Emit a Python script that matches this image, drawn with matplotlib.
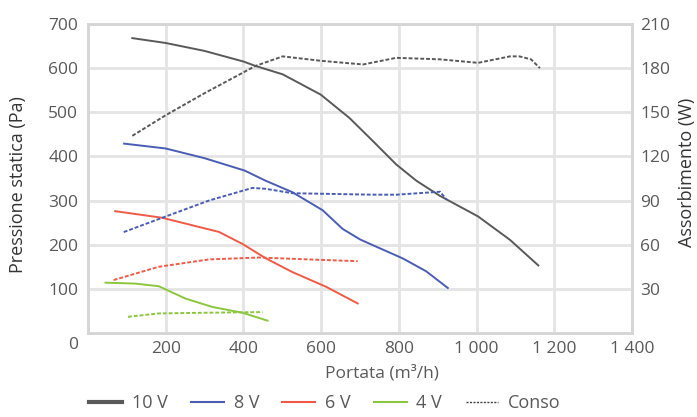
import matplotlib
matplotlib.use("Agg")
import matplotlib.pyplot as plt
from matplotlib.lines import Line2D
import matplotlib.transforms as mtransforms

plt.rcParams['font.family'] = ['Open Sans', 'DejaVu Sans']

# Pressure curves (Pa) vs flow (m3/h)
q10 = [114, 200, 300, 400, 431, 501, 599, 673, 733, 793, 845, 905, 1004, 1086, 1159]
p10 = [668, 657, 639, 615, 605, 586, 540, 487, 435, 382, 345, 311, 264, 211, 153]
q8 = [93, 200, 300, 403, 457, 526, 604, 655, 700, 733, 810, 870, 926]
p8 = [429, 418, 396, 368, 345, 319, 278, 236, 212, 199, 169, 140, 102]
q6 = [70, 191, 337, 397, 458, 526, 612, 694]
p6 = [276, 261, 229, 202, 169, 138, 105, 67]
q4 = [45, 120, 182, 251, 320, 397, 462]
p4 = [114, 112, 106, 78, 59, 46, 28]

# Power consumption (W) vs flow
cq10 = [114, 200, 300, 431, 501, 599, 708, 793, 905, 1004, 1086, 1110, 1140, 1163]
cw10 = [134, 148, 163, 181.5, 188, 185, 182.5, 187, 186, 183.6, 188, 188, 186, 180]
cq8 = [92, 191, 311, 423, 457, 526, 733, 794, 906, 923]
cw8 = [68.6, 78.3, 90, 98.6, 98, 95, 94, 94, 96, 90.6]
cq6 = [66, 182, 311, 440, 569, 694]
cw6 = [36, 45, 50, 51.3, 50, 48.8]
cq4 = [103, 182, 311, 449]
cw4 = [11, 13.3, 13.8, 14.2]

col10, col8, col6, col4 = '#595959', '#4a5db5', '#ef5a47', '#8cc63e'
labels = ['10 V', '8 V', '6 V', '4 V', 'Conso']
txt = '#595959'

fig = plt.figure(figsize=(6.97, 4.17), dpi=100)
ax = fig.add_axes([88/697, 1-333/417, (632-88)/697, (333-24)/417])
ax2 = ax.twinx()

lw = 1.4
ax.plot(q10, p10, color=col10, lw=lw)
ax.plot(q8, p8, color=col8, lw=lw)
ax.plot(q6, p6, color=col6, lw=lw)
ax.plot(q4, p4, color=col4, lw=lw)
ds = (0, (2.0, 1.0))
ax2.plot(cq10, cw10, color=col10, lw=lw, linestyle=ds)
ax2.plot(cq8, cw8, color=col8, lw=lw, linestyle=ds)
ax2.plot(cq6, cw6, color=col6, lw=lw, linestyle=ds)
ax2.plot(cq4, cw4, color=col4, lw=lw, linestyle=ds)

ax.set_xlim(0, 1400)
ax.set_ylim(0, 700)
ax2.set_ylim(0, 210)
ax.set_xticks([200, 400, 600, 800, 1000, 1200, 1400])
ax.set_xticklabels(['200', '400', '600', '800', '1 000', '1 200', '1 400'])
ax.set_yticks(range(0, 701, 100))
ax2.set_yticks(range(30, 211, 30))
ax.grid(True, color='#e4e4e4', lw=2)
ax.set_axisbelow(True)
for a in (ax, ax2):
    for s in a.spines.values():
        s.set_color('#d6d6d6')
        s.set_linewidth(2)
    a.tick_params(length=0, labelsize=12.5, colors=txt)
ax.tick_params(axis='y', pad=7)
ax.tick_params(axis='x', pad=6)
ax2.tick_params(axis='y', pad=6)

# shift "0" label slightly lower as in reference
for lab in ax.get_yticklabels():
    if lab.get_text() == '0':
        lab.set_transform(lab.get_transform() + mtransforms.ScaledTranslation(0, -10/100, fig.dpi_scale_trans))

ax.set_xlabel('Portata (m³/h)', fontsize=12.5, color=txt)
ax.xaxis.set_label_coords((382-88)/544, -0.105)
fig.text(18/697, 1-185/417, 'Pressione statica (Pa)', rotation=90, ha='center', va='center', fontsize=13, color='#333333')
fig.text(696/697, 1-172/417, 'Assorbimento (W)', rotation=90, ha='right', va='center', fontsize=13, color='#333333')

handles = [Line2D([], [], color=col10, lw=3),
           Line2D([], [], color=col8, lw=1.5),
           Line2D([], [], color=col6, lw=1.5),
           Line2D([], [], color=col4, lw=1.5),
           Line2D([], [], color='#404040', lw=1, linestyle=(0, (1.5, 1)))]
fig.legend(handles, labels, loc='center', bbox_to_anchor=(325/697, 1-403/417), ncol=5,
           frameon=False, fontsize=13, handlelength=1.8, columnspacing=1.3, handletextpad=0.55,
           labelcolor=txt)

fig.savefig('out.png', dpi=100)
